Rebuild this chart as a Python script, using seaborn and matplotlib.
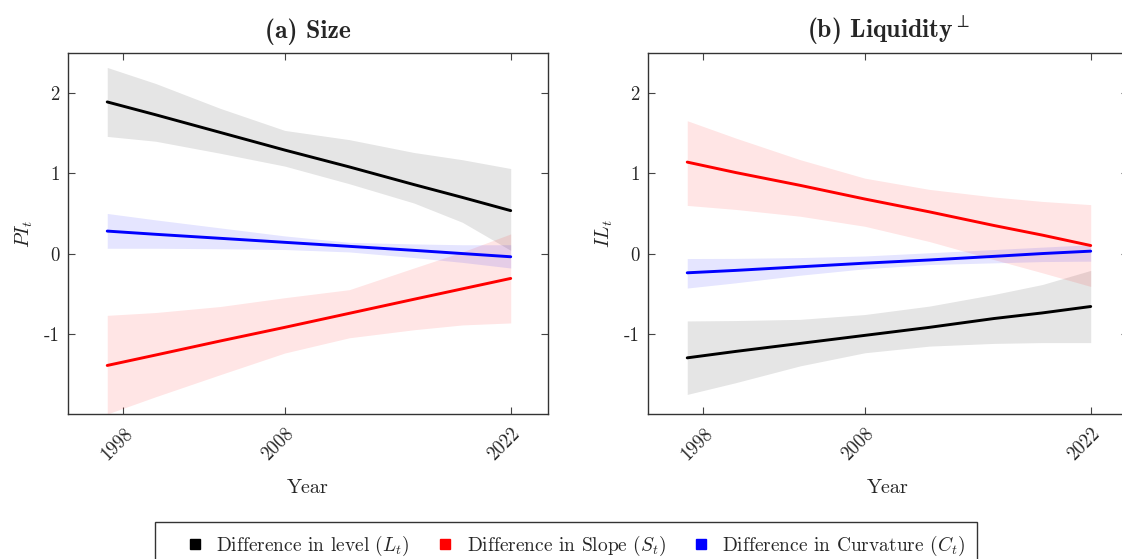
import numpy as np
import pandas as pd
import seaborn as sns
import matplotlib.pyplot as plt
from matplotlib.lines import Line2D

# Years at which the fitted lines and their bands were read
years = [1997, 2000, 2004, 2008, 2012, 2016, 2019, 2022]

# (a) Size
size_level = [1.89, 1.73, 1.51, 1.29, 1.08, 0.86, 0.70, 0.535]
size_level_lo = [1.46, 1.40, 1.25, 1.09, 0.87, 0.63, 0.39, 0.04]
size_level_hi = [2.32, 2.12, 1.81, 1.535, 1.42, 1.26, 1.17, 1.06]
size_slope = [-1.395, -1.265, -1.09, -0.92, -0.745, -0.57, -0.44, -0.31]
size_slope_lo = [-2.0, -1.785, -1.51, -1.24, -1.05, -0.95, -0.89, -0.865]
size_slope_hi = [-0.77, -0.735, -0.66, -0.55, -0.45, -0.18, 0.02, 0.245]
size_curv = [0.28, 0.24, 0.19, 0.14, 0.09, 0.04, 0.0, -0.04]
size_curv_lo = [0.066, 0.066, 0.06, 0.05, 0.02, -0.05, -0.11, -0.18]
size_curv_hi = [0.50, 0.42, 0.32, 0.22, 0.14, 0.12, 0.11, 0.11]

# (b) Liquidity
liq_level = [-1.30, -1.22, -1.12, -1.02, -0.92, -0.81, -0.74, -0.66]
liq_level_lo = [-1.756, -1.61, -1.40, -1.237, -1.154, -1.12, -1.11, -1.11]
liq_level_hi = [-0.84, -0.835, -0.82, -0.76, -0.655, -0.51, -0.386, -0.21]
liq_slope = [1.14, 1.01, 0.85, 0.68, 0.52, 0.35, 0.23, 0.10]
liq_slope_lo = [0.60, 0.55, 0.465, 0.34, 0.15, -0.075, -0.24, -0.41]
liq_slope_hi = [1.656, 1.44, 1.17, 0.94, 0.80, 0.705, 0.65, 0.61]
liq_curv = [-0.24, -0.21, -0.165, -0.12, -0.08, -0.035, 0.0, 0.03]
liq_curv_lo = [-0.43, -0.365, -0.27, -0.19, -0.137, -0.116, -0.10, -0.095]
liq_curv_hi = [-0.062, -0.06, -0.05, -0.03, 0.01, 0.05, 0.08, 0.11]

series_names = ['Difference in level ($L_t$)', 'Difference in Slope ($S_t$)',
                'Difference in Curvature ($C_t$)']
series_colors = ['black', 'red', 'blue']
xtick_years = [1998, 2008, 2022]
ytick_vals = [-1, 0, 1, 2]
ytick_labels = ['-1', '0', '1', '2']

sns.set_style('ticks')
plt.rcParams['font.family'] = 'serif'
plt.rcParams['font.serif'] = ['cmr10', 'DejaVu Serif']
plt.rcParams['mathtext.fontset'] = 'cm'
plt.rcParams['axes.unicode_minus'] = False
plt.rcParams['axes.formatter.use_mathtext'] = True

fig = plt.figure(figsize=(11.22, 5.59), dpi=100)
ax_a = fig.add_axes([68 / 1122, 1 - 414 / 559, 480 / 1122, 361 / 559])
ax_b = fig.add_axes([648 / 1122, 1 - 414 / 559, 480 / 1122, 361 / 559])

panels = [
    (ax_a, '(a) Size', '$PI_t$',
     [(size_level, size_level_lo, size_level_hi),
      (size_slope, size_slope_lo, size_slope_hi),
      (size_curv, size_curv_lo, size_curv_hi)]),
    (ax_b, '(b) Liquidity$^{\\perp}$', '$IL_t$',
     [(liq_level, liq_level_lo, liq_level_hi),
      (liq_slope, liq_slope_lo, liq_slope_hi),
      (liq_curv, liq_curv_lo, liq_curv_hi)]),
]

for ax, title, ylab, data in panels:
    for (mid, lo, hi), col in zip(data, series_colors):
        ax.fill_between(years, lo, hi, color=col, alpha=0.1, linewidth=0)
    for (mid, lo, hi), col in zip(data, series_colors):
        df = pd.DataFrame({'Year': years, 'val': mid})
        sns.lineplot(data=df, x='Year', y='val', color=col, linewidth=2.1, ax=ax)
    ax.set_xlim(1994.57, 2024.31)
    ax.set_ylim(-2, 2.5)
    ax.set_xticks(xtick_years)
    ax.set_xticklabels([str(y) for y in xtick_years], rotation=45, ha='right',
                       rotation_mode='anchor', fontsize=13.5)
    ax.set_yticks(ytick_vals)
    ax.set_yticklabels(ytick_labels, fontsize=13.5)
    ax.tick_params(direction='in', length=5, width=0.8, top=True, right=True,
                   color='#444444', pad=6)
    ax.tick_params(axis='x', pad=8)
    for sp in ax.spines.values():
        sp.set_linewidth(1.0)
        sp.set_color('#333333')
    ax.set_xlabel('Year', fontsize=14.5, labelpad=11)
    ax.set_ylabel(ylab, fontsize=14.5, labelpad=6)
    ax.set_title(title, fontsize=18.5, fontfamily='cmb10', pad=11)

handles = [Line2D([], [], marker='s', linestyle='none', color=c, markersize=7)
           for c in series_colors]
leg = fig.legend(handles, series_names, loc='upper left', ncol=3,
                 bbox_to_anchor=(155 / 1122, 1 - 522 / 559), borderaxespad=0,
                 fontsize=14, frameon=True, fancybox=False, edgecolor='black',
                 borderpad=0.6, handlelength=2.9, handletextpad=-0.34,
                 columnspacing=0.35)
leg.get_frame().set_linewidth(1.0)

fig.savefig('out.png', dpi=100)
